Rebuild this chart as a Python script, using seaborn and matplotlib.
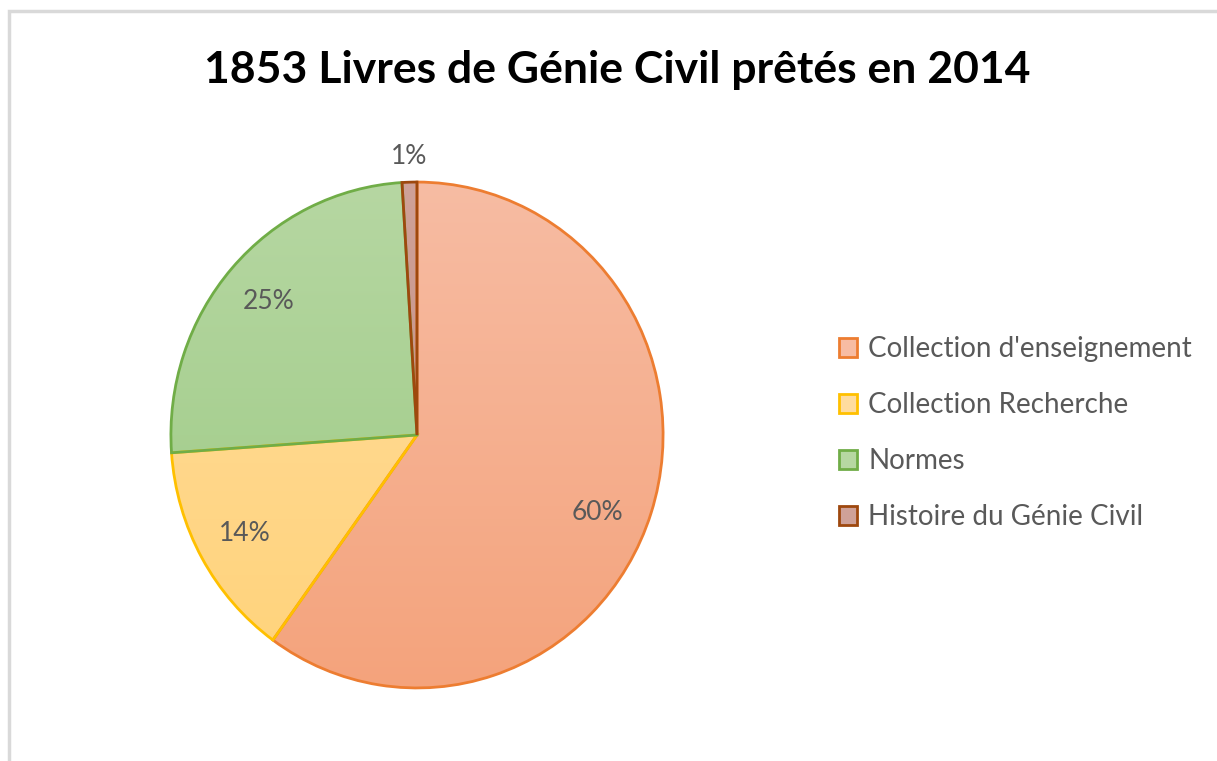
import numpy as np
import matplotlib
matplotlib.use("Agg")
import matplotlib.pyplot as plt
import matplotlib.patches as mpatches
from matplotlib.colors import LinearSegmentedColormap
import seaborn as sns

sns.set_theme(style="white")
plt.rcParams['font.family'] = ['Lato', 'DejaVu Sans']

# Data
categories = ["Collection d'enseignement", "Collection Recherche", "Normes", "Histoire du Génie Civil"]
counts = [1111, 258, 466, 18]
title = "1853 Livres de Génie Civil prêtés en 2014"

edge_colors = ["#ED7D31", "#FFC000", "#70AD47", "#9E480E"]
top_colors = ["#F7BCA3", "#FFDC9E", "#B6D7A2", "#CFA198"]
bot_colors = ["#F4A37C", "#FFD37A", "#9BC982", "#C08A7E"]

W, H = 1217, 761
fig = plt.figure(figsize=(W / 100, H / 100), dpi=100)
fig.patch.set_facecolor("white")

# chart frame (top and left visible)
frame = mpatches.Rectangle((9 / W, -0.05), 1.2, 1 - 11 / H + 0.05, transform=fig.transFigure,
                           fill=False, edgecolor="#D9D9D9", linewidth=2.5)
fig.patches.append(frame)

cx, cy = 417, 435
rx, ry = 251, 258
ax = fig.add_axes([(cx - rx) / W, (H - cy - ry) / H, 2 * rx / W, 2 * ry / H])

wedges, texts, autotexts = ax.pie(
    counts, startangle=90, counterclock=False, radius=1.0,
    colors=top_colors, autopct=lambda p: f"{p:.0f}%", pctdistance=0.8,
    wedgeprops=dict(linewidth=2, edgecolor="white"),
    textprops=dict(color="#595959", fontsize=19),
)
ax.set_aspect("auto")
ax.axis("off")

# gradient fills clipped to wedges
for w, ec, tc, bc in zip(wedges, edge_colors, top_colors, bot_colors):
    cmap = LinearSegmentedColormap.from_list("g", [tc, bc])
    grad = np.linspace(0, 1, 256).reshape(-1, 1)
    im = ax.imshow(grad, cmap=cmap, extent=(-1, 1, -1, 1), origin="upper",
                   aspect="auto", zorder=w.get_zorder() - 0.1)
    im.set_clip_path(w)
    w.set_facecolor("none")
    w.set_edgecolor(ec)
    w.set_linewidth(2)
    w.set_zorder(w.get_zorder() + 0.5)
ax.set_xlim(-1.02, 1.02)
ax.set_ylim(-1.02, 1.02)

# small slice label outside
for w, t in zip(wedges, autotexts):
    frac = (w.theta2 - w.theta1) / 360
    ang = np.deg2rad((w.theta1 + w.theta2) / 2)
    if frac < 0.03:
        t.set_position((1.12 * np.cos(ang), 1.10 * np.sin(ang)))
    elif frac > 0.5:
        t.set_position((0.77 * np.cos(ang), 0.99 * np.sin(ang)))
    t.set_zorder(10)

fig.text(617 / W, 1 - 70 / H, title, ha="center", va="center",
         fontsize=32, fontweight="bold", color="black")

handles = [mpatches.Patch(facecolor=tc, edgecolor=ec, linewidth=2)
           for tc, ec in zip(top_colors, edge_colors)]
leg = fig.legend(handles, categories, loc="center left",
                 bbox_to_anchor=(814 / W, 1 - 433 / H), frameon=False,
                 fontsize=20, labelcolor="#595959", handlelength=0.65,
                 handleheight=0.65, handletextpad=0.4, labelspacing=1.08)

fig.savefig("out.png", dpi=100, facecolor="white")
